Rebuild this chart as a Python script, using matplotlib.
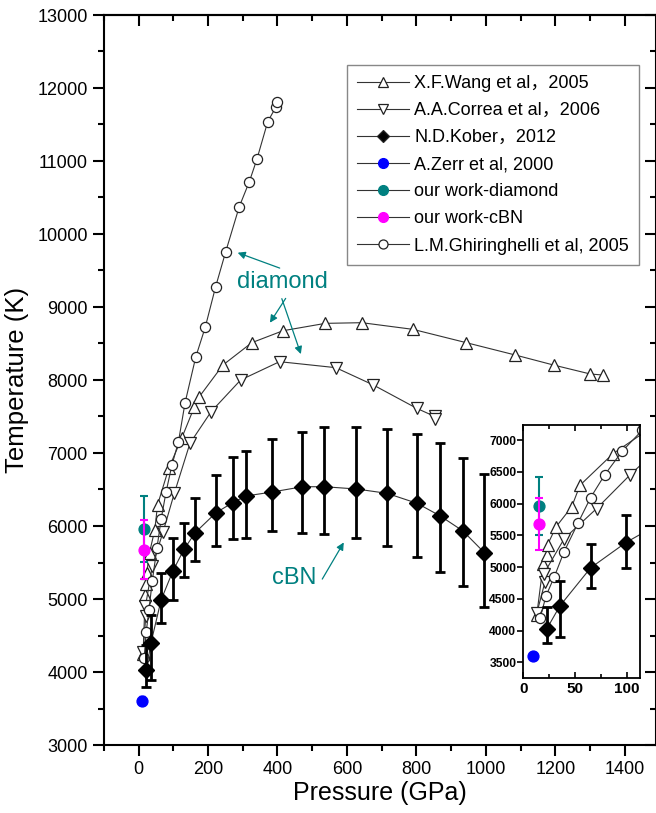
import numpy as np
import matplotlib
matplotlib.use("Agg")
import matplotlib.pyplot as plt
from matplotlib.lines import Line2D
from matplotlib.ticker import MultipleLocator

plt.rcParams['font.family'] = ['Liberation Sans', 'Noto Sans CJK SC', 'DejaVu Sans']

# X.F.Wang et al 2005 (up triangles)
wang_p = [13, 19.4, 22.6, 23.6, 31.6, 46.8, 54.9, 87, 124, 161, 175, 243, 326, 416,
          538, 643, 790, 944, 1085, 1195, 1301, 1338]
wang_t = [4245, 5058, 5200, 5357, 5634, 5949, 6291, 6790, 7200, 7634, 7771, 8205, 8511, 8675,
          8776, 8785, 8694, 8511, 8342, 8205, 8082, 8068]

# A.A.Correa et al 2006 (down triangles)
correa_p = [13, 21, 20, 39.7, 71, 103, 148, 209, 294, 406, 568, 676, 801, 853, 855]
correa_t = [4271, 4769, 4900, 5452, 5924, 6448, 7132, 7566, 8000, 8251, 8169, 7932, 7612, 7500, 7470]

# L.M.Ghiringhelli et al 2005 (circles)
ghir_p = [16.2, 22, 30, 39.4, 53.2, 65.2, 79, 96, 115, 134, 165, 192, 222, 251, 290, 319,
          341, 372, 396, 400]
ghir_t = [4192, 4548, 4848, 5241, 5704, 6097, 6459, 6832, 7155, 7689, 8319, 8721, 9278, 9757,
          10374, 10716, 11027, 11538, 11744, 11812]

# N.D.Kober 2012 (diamonds with error bars)
kober_p = [22.6, 35.5, 65.2, 99.4, 131, 163, 223, 271, 309, 384, 472, 535, 627, 715, 802,
           869, 934, 996]
kober_t = [4025, 4392, 4990, 5389, 5680, 5908, 6182, 6319, 6411, 6465, 6538, 6538, 6507,
           6448, 6311, 6137, 5932, 5634]
kober_lo = [3799, 3894, 4675, 4990, 5295, 5525, 5730, 5818, 5832, 5934, 5908, 5886, 5832,
            5726, 5571, 5374, 5178, 4886]
kober_hi = [4376, 4780, 5363, 5830, 6037, 6379, 6699, 6941, 7027, 7188, 7284, 7352, 7352,
            7325, 7260, 7133, 6936, 6712]

# single points
zerr_p, zerr_t, zerr_e = [9.7], [3605], [60]
ourd_p, ourd_t, ourd_e = [15.2], [5961], [455]
ourc_p, ourc_t, ourc_e = [15.2], [5678], [410]

labels = ["X.F.Wang et al\uff0c2005", "A.A.Correa et al\uff0c2006", "N.D.Kober\uff0c2012",
          "A.Zerr et al, 2000", "our work-diamond", "our work-cBN",
          "L.M.Ghiringhelli et al, 2005"]

inset_xticks = [0, 50, 100]
inset_yticks = [3500, 4000, 4500, 5000, 5500, 6000, 6500, 7000]

TEAL = '#008080'
MAG = '#ff00ff'
BLUE = '#0000ff'
LC = '#333333'

W, H = 656, 813
fig = plt.figure(figsize=(W / 100, H / 100), dpi=100)
ax = fig.add_axes([103.8 / W, 1 - 745 / H, (656 - 103.8) / W, (745 - 15) / H])


def draw(a, ms=7.3):
    kw = dict(color=LC, lw=0.8, mec='#222222', mew=0.9, mfc='white')
    a.plot(wang_p, wang_t, marker='^', ms=ms + 1, **kw)
    a.plot(correa_p, correa_t, marker='v', ms=ms + 1, **kw)
    a.plot(ghir_p, ghir_t, marker='o', ms=ms, **kw)
    kt = np.array(kober_t)
    a.errorbar(kober_p, kober_t, yerr=[kt - np.array(kober_lo), np.array(kober_hi) - kt],
               fmt='D', color='black', ms=ms + 1, ecolor='black', elinewidth=2,
               capsize=3.4, capthick=2, zorder=3)
    a.plot(kober_p, kober_t, color=LC, lw=0.8, zorder=2)
    a.errorbar(zerr_p, zerr_t, yerr=zerr_e, fmt='o', color=BLUE, ms=ms + 0.5,
               elinewidth=1.2, capsize=2.5, zorder=4)
    a.errorbar(ourd_p, ourd_t, yerr=ourd_e, fmt='o', color=TEAL, ms=ms + 0.5,
               elinewidth=1.5, capsize=3.2, capthick=1.5, zorder=5)
    a.errorbar(ourc_p, ourc_t, yerr=ourc_e, fmt='o', color=MAG, ms=ms + 0.5,
               elinewidth=1.5, capsize=3.2, capthick=1.5, zorder=6)


draw(ax)
ax.set_xlim(-100, 1490)
ax.set_ylim(3000, 13000)
ax.xaxis.set_major_locator(MultipleLocator(200))
ax.xaxis.set_minor_locator(MultipleLocator(100))
ax.yaxis.set_major_locator(MultipleLocator(1000))
ax.yaxis.set_minor_locator(MultipleLocator(500))
ax.tick_params(which='major', direction='out', length=8, width=1.5, labelsize=13, pad=3.5)
ax.tick_params(which='minor', direction='out', length=4, width=1.5)
for s in ax.spines.values():
    s.set_linewidth(1.5)

top = ax.secondary_xaxis('top')
top.xaxis.set_major_locator(MultipleLocator(200))
top.xaxis.set_minor_locator(MultipleLocator(100))
top.tick_params(which='major', direction='in', length=8, width=1.5, labeltop=False)
top.tick_params(which='minor', direction='in', length=4, width=1.5)
top.spines['top'].set_linewidth(1.5)
right = ax.secondary_yaxis('right')
right.yaxis.set_major_locator(MultipleLocator(1000))
right.yaxis.set_minor_locator(MultipleLocator(500))
right.tick_params(which='major', direction='in', length=8, width=1.5, labelright=False)
right.tick_params(which='minor', direction='in', length=4, width=1.5)

ax.set_xlabel("Pressure (GPa)", fontsize=18, labelpad=2)
ax.set_ylabel("Temperature (K)", fontsize=18.5, labelpad=6)

# annotations
ax.text(415, 9342, "diamond", color=TEAL, fontsize=17, ha='center', va='center')
aprops = dict(arrowstyle='-|>', color=TEAL, lw=0.9, mutation_scale=11)
ax.annotate("", xy=(278, 9757), xytext=(414, 9520), arrowprops=aprops)
ax.annotate("", xy=(374, 8753), xytext=(428, 9150), arrowprops=aprops)
ax.annotate("", xy=(470, 8319), xytext=(410, 9150), arrowprops=aprops)
ax.text(448, 5288, "cBN", color=TEAL, fontsize=17, ha='center', va='center')
ax.annotate("", xy=(595, 5808), xytext=(525, 5240), arrowprops=aprops)

# legend
hk = dict(color=LC, lw=0.8, mec='#222222', mew=0.9)
handles = [
    Line2D([], [], marker='^', ms=7, mfc='white', **hk),
    Line2D([], [], marker='v', ms=7, mfc='white', **hk),
    Line2D([], [], marker='D', ms=6.5, mfc='black', **hk),
    Line2D([], [], marker='o', ms=7, mfc=BLUE, color=LC, lw=0.8, mec=BLUE),
    Line2D([], [], marker='o', ms=7, mfc=TEAL, color=LC, lw=0.8, mec=TEAL),
    Line2D([], [], marker='o', ms=7, mfc=MAG, color=LC, lw=0.8, mec=MAG),
    Line2D([], [], marker='o', ms=6.5, mfc='white', **hk),
]
leg = ax.legend(handles, labels, loc='upper left', bbox_to_anchor=(346.7 / W, 1 - 65 / H),
                bbox_transform=fig.transFigure, fontsize=13, frameon=True, fancybox=False,
                edgecolor='#888888', framealpha=1, borderpad=0.55, labelspacing=0.56,
                handlelength=2.9, handletextpad=0.3, borderaxespad=0)
leg.get_frame().set_linewidth(1.0)

# inset
ins = fig.add_axes([523.3 / W, 1 - 678.3 / H, (640 - 523.3) / W, (678.3 - 425) / H])
draw(ins)
ins.set_xlim(0, 113)
ins.set_ylim(3250, 7240)
ins.set_xticks(inset_xticks, [str(v) for v in inset_xticks], fontweight='bold', fontsize=11)
ins.set_yticks(inset_yticks, [str(v) for v in inset_yticks], fontweight='bold', fontsize=8.7)
ins.xaxis.set_minor_locator(MultipleLocator(25))
ins.tick_params(which='major', direction='out', length=4, width=1.2, pad=1)
ins.tick_params(which='minor', direction='out', length=2.5, width=1.2)
ins.tick_params(axis='x', which='major', direction='in', top=True, length=4, pad=3)
ins.tick_params(axis='x', which='minor', direction='in', top=True, length=3)
for s in ins.spines.values():
    s.set_linewidth(1.3)

fig.savefig("out.png", dpi=100)
